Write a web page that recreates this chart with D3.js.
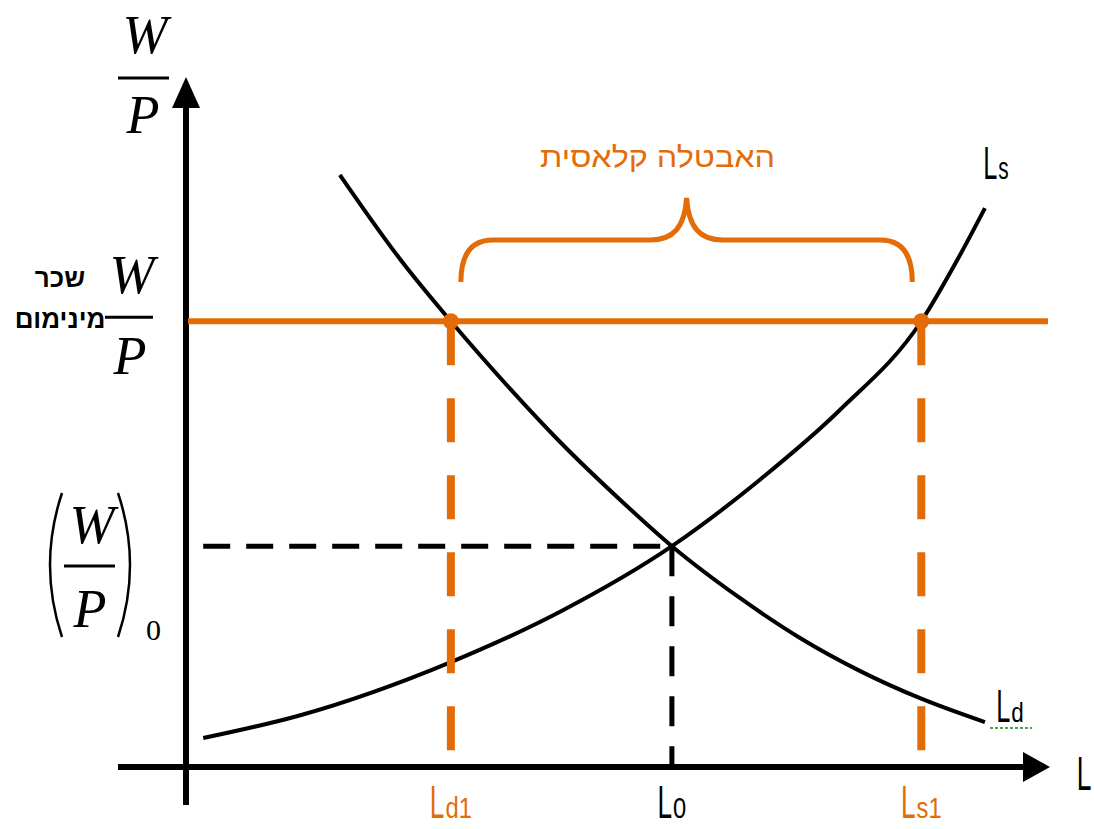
<!DOCTYPE html>
<html>
<head>
<meta charset="utf-8">
<script src="https://cdn.jsdelivr.net/npm/d3@7"></script>
<style>
  body { margin: 0; background: #fff; }
  svg { display: block; }
</style>
</head>
<body>
<div id="chart"></div>
<script>
// labour market, classical unemployment (0..100 units)
var ldL = [17.9, 24.9, 30.8, 37.7, 43.5, 50.5, 56.5, 64.4, 71.4, 78.4, 85.5, 92.9];
var ldW = [85.8, 73.6, 64.6, 54.8, 47.1, 38.7, 32.0, 24.5, 18.7, 13.9, 9.9, 6.5];
var lsL = [2.0, 13.3, 30.8, 43.5, 56.5, 66.7, 76.0, 85.5, 90.0, 92.9];
var lsW = [4.2, 7.5, 15.2, 22.5, 32.0, 41.6, 51.7, 64.6, 74.2, 81.0];

var Ld1 = 30.8, L0 = 56.5, Ls1 = 85.5;
var wMin = 64.6, w0 = 32.0;

var title = "האבטלה קלאסית";
var minLabel = ["שכר", "מינימום"];

var orange = "#e36c09";
var width = 1094, height = 829;

var svg = d3.select("#chart").append("svg")
    .attr("width", width)
    .attr("height", height);

var x = d3.scaleLinear().domain([0, 100]).range([186, 1046]);
var y = d3.scaleLinear().domain([0, 100]).range([767, 77]);

// axes with arrow heads
svg.append("line")
    .attr("x1", x(0)).attr("x2", x(0))
    .attr("y1", 805).attr("y2", y(100) + 25)
    .attr("stroke", "#000").attr("stroke-width", 6);
svg.append("path")
    .attr("d", "M" + x(0) + "," + y(100) + "L" + (x(0) - 14) + "," + (y(100) + 31) + "L" + (x(0) + 14) + "," + (y(100) + 31) + "Z")
    .attr("fill", "#000");

svg.append("line")
    .attr("x1", 118).attr("x2", x(100) - 20)
    .attr("y1", y(0)).attr("y2", y(0))
    .attr("stroke", "#000").attr("stroke-width", 6);
svg.append("path")
    .attr("d", "M" + (x(100) + 4) + "," + y(0) + "L" + (x(100) - 23) + "," + (y(0) - 15) + "L" + (x(100) - 23) + "," + (y(0) + 15) + "Z")
    .attr("fill", "#000");

// curves
var line = d3.line()
    .x(function(d) { return x(d[0]); })
    .y(function(d) { return y(d[1]); })
    .curve(d3.curveMonotoneX);

svg.append("path")
    .datum(d3.zip(ldL, ldW))
    .attr("d", line)
    .attr("fill", "none").attr("stroke", "#000").attr("stroke-width", 4);
svg.append("path")
    .datum(d3.zip(lsL, lsW))
    .attr("d", line)
    .attr("fill", "none").attr("stroke", "#000").attr("stroke-width", 4);

// equilibrium guides
svg.append("line")
    .attr("x1", x(2)).attr("x2", x(L0))
    .attr("y1", y(w0)).attr("y2", y(w0))
    .attr("stroke", "#000").attr("stroke-width", 5)
    .attr("stroke-dasharray", "27 16");
svg.append("line")
    .attr("x1", x(L0)).attr("x2", x(L0))
    .attr("y1", y(w0)).attr("y2", y(0))
    .attr("stroke", "#000").attr("stroke-width", 5)
    .attr("stroke-dasharray", "30 20");

// minimum wage
svg.append("line")
    .attr("x1", x(0) + 2).attr("x2", 1048)
    .attr("y1", y(wMin)).attr("y2", y(wMin))
    .attr("stroke", orange).attr("stroke-width", 6);

[Ld1, Ls1].forEach(function(v) {
    svg.append("line")
        .attr("x1", x(v)).attr("x2", x(v))
        .attr("y1", y(wMin)).attr("y2", y(0) - 2)
        .attr("stroke", orange).attr("stroke-width", 8)
        .attr("stroke-dasharray", "44 33");
    svg.append("circle")
        .attr("cx", x(v)).attr("cy", y(wMin))
        .attr("r", 8).attr("fill", orange);
});

// brace over the unemployment gap
var xl = x(Ld1) + 10, xr = x(Ls1) - 9, xc = (xl + xr) / 2;
var yb = 282, yh = 240, yp = 198;
svg.append("path")
    .attr("d", "M" + xl + "," + yb +
        "C" + xl + "," + (yh + 18) + " " + (xl + 8) + "," + yh + " " + (xl + 32) + "," + yh +
        "L" + (xc - 36) + "," + yh +
        "C" + (xc - 14) + "," + yh + " " + (xc - 2) + "," + (yh - 12) + " " + xc + "," + yp +
        "C" + (xc + 2) + "," + (yh - 12) + " " + (xc + 14) + "," + yh + " " + (xc + 36) + "," + yh +
        "L" + (xr - 32) + "," + yh +
        "C" + (xr - 8) + "," + yh + " " + xr + "," + (yh + 18) + " " + xr + "," + yb)
    .attr("fill", "none").attr("stroke", orange).attr("stroke-width", 5);

svg.append("text")
    .attr("x", xc - 29).attr("y", 167)
    .attr("text-anchor", "middle")
    .attr("font-family", "'Liberation Sans', Arial, sans-serif")
    .attr("font-size", 29)
    .attr("textLength", 235).attr("lengthAdjust", "spacingAndGlyphs")
    .attr("fill", orange)
    .text(title);

// L labels with subscripts
function lLabel(cx, by, sub, color, big, small, sx, sx2) {
    var g = svg.append("g").attr("fill", color)
        .attr("font-family", "'Liberation Sans', Arial, sans-serif");
    var t1 = g.append("text").attr("font-size", big)
        .attr("transform", "scale(" + sx + ",1)").text("L");
    var w1 = t1.node().getComputedTextLength() * sx;
    var w2 = 0;
    if (sub) {
        var t2 = g.append("text").attr("font-size", small)
            .attr("transform", "translate(" + (w1 + 1) + ",0) scale(" + sx2 + ",1)").text(sub);
        w2 = t2.node().getComputedTextLength() * sx2 + 1;
    }
    g.attr("transform", "translate(" + (cx - (w1 + w2) / 2) + "," + by + ")");
    return g;
}

lLabel(x(Ld1), 818, "d1", orange, 46, 29, 0.57, 0.82);
lLabel(x(L0), 818, "0", "#000", 46, 29, 0.57, 0.82);
lLabel(x(Ls1), 818, "s1", orange, 46, 29, 0.57, 0.82);
lLabel(1084, 790, null, "#000", 48, 30, 0.55, 0.8);
lLabel(996, 179, "s", "#000", 46, 32, 0.55, 0.65);
lLabel(1010, 722, "d", "#000", 46, 28, 0.55, 0.8);

// spell-check squiggle under Ld
svg.append("line")
    .attr("x1", 990).attr("x2", 1032)
    .attr("y1", 728).attr("y2", 728)
    .attr("stroke", "#4aa84a").attr("stroke-width", 2)
    .attr("stroke-dasharray", "3 2");

// W/P fractions
function frac(cx, wBase, lineY, pBase, x1, x2) {
    var g = svg.append("g")
        .attr("font-family", "'Liberation Serif', 'Times New Roman', serif")
        .attr("font-style", "italic")
        .attr("font-size", 54)
        .attr("text-anchor", "middle")
        .attr("fill", "#000");
    g.append("text").attr("x", cx + 2).attr("y", wBase).text("W");
    g.append("line").attr("x1", x1).attr("x2", x2)
        .attr("y1", lineY).attr("y2", lineY)
        .attr("stroke", "#000").attr("stroke-width", 3);
    g.append("text").attr("x", cx).attr("y", pBase).text("P");
}

frac(143, 53, 78, 133, 118, 169);
frac(130, 293, y(wMin) - 4, 374, 105, 153);
frac(90, 543, 566, 627, 64, 115);

// parentheses and subscript 0
svg.append("path")
    .attr("d", "M62,493 Q38,565 62,637")
    .attr("fill", "none").attr("stroke", "#000").attr("stroke-width", 2.5);
svg.append("path")
    .attr("d", "M118,493 Q142,565 118,637")
    .attr("fill", "none").attr("stroke", "#000").attr("stroke-width", 2.5);
svg.append("text")
    .attr("x", 146).attr("y", 640)
    .attr("font-family", "'Liberation Serif', 'Times New Roman', serif")
    .attr("font-size", 30)
    .text("0");

// minimum wage label
svg.selectAll(".minlab")
    .data(minLabel)
    .enter().append("text")
    .attr("class", "minlab")
    .attr("x", 60)
    .attr("y", function(d, i) { return 287 + i * 41; })
    .attr("text-anchor", "middle")
    .attr("font-family", "'Liberation Sans', Arial, sans-serif")
    .attr("font-weight", "bold")
    .attr("font-size", 26)
    .text(function(d) { return d; });
</script>
</body>
</html>
